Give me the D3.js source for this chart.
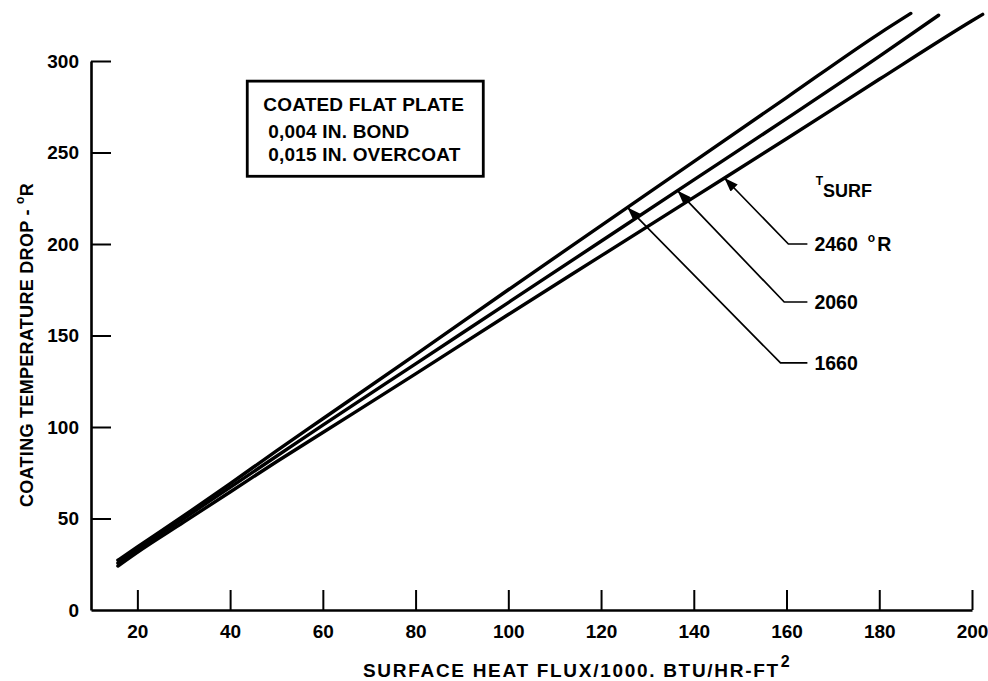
<!DOCTYPE html>
<html>
<head>
<meta charset="utf-8">
<script src="https://cdn.jsdelivr.net/npm/d3@7"></script>
<style>
  body { margin: 0; background: #fff; }
  svg { display: block; font-family: "Liberation Sans", Arial, sans-serif; font-weight: bold; }
</style>
</head>
<body>
<svg id="chart" width="988" height="681"></svg>
<script>
// tick values
const xTicks = [20, 40, 60, 80, 100, 120, 140, 160, 180, 200];
const yTicks = [0, 50, 100, 150, 200, 250, 300];

// T_SURF = 1660 R (top curve)
const flux1660 = [15.8, 20, 30, 40, 50, 60, 80, 100, 120, 140, 160, 180, 186.8];
const drop1660 = [27.2, 34.5, 51.5, 69, 87, 104.5, 139.5, 175, 210, 245, 280, 315, 326];
// T_SURF = 2060 R (middle curve)
const flux2060 = [15.8, 20, 30, 40, 50, 60, 80, 100, 120, 140, 160, 180, 192.8];
const drop2060 = [25.6, 33, 50, 67, 84, 101, 134.5, 168, 201.5, 235, 268.5, 302.5, 325];
// T_SURF = 2460 R (bottom curve)
const flux2460 = [15.8, 20, 30, 40, 50, 60, 80, 100, 120, 140, 160, 180, 200, 202.3];
const drop2460 = [24, 31.5, 48, 64.5, 81, 97, 129, 161.5, 193.5, 225.5, 257.5, 290, 322, 325.5];

// leader labels
const labelNames = ["1660", "2060", "2460"];
const labelTipFlux = [125.7, 136.5, 146.6];
const labelDrop = [135, 168.3, 200];
const labelElbowFlux = [158.7, 159.5, 160.4];

const svg = d3.select("#chart");
const x = d3.scaleLinear().domain([10, 200]).range([91, 972]);
const y = d3.scaleLinear().domain([0, 300]).range([610, 61]);

// axes
const xAxis = svg.append("g")
    .attr("transform", "translate(0," + y(0) + ")")
    .call(d3.axisBottom(x).tickValues(xTicks).tickSizeInner(-20).tickSizeOuter(0).tickPadding(15));
const yAxis = svg.append("g")
    .attr("transform", "translate(" + x(10) + ",0)")
    .call(d3.axisLeft(y).tickValues(yTicks).tickSizeInner(-20).tickSizeOuter(0).tickPadding(12));

[xAxis, yAxis].forEach(function (g) {
  g.select(".domain").attr("stroke", "#000").attr("stroke-width", 2.6);
  g.selectAll(".tick line").attr("stroke", "#000").attr("stroke-width", 2);
  g.selectAll(".tick text")
      .attr("fill", "#000")
      .attr("font-size", 19)
      .attr("font-weight", "bold")
      .attr("font-family", "Liberation Sans, Arial, sans-serif");
});
yAxis.selectAll(".tick").filter(d => d === 0).select("line").remove();

// curves
const series = [
  [flux1660, drop1660],
  [flux2060, drop2060],
  [flux2460, drop2460]
];
const line = d3.line()
    .x(d => x(d[0]))
    .y(d => y(d[1]))
    .curve(d3.curveMonotoneX);

svg.append("g")
  .selectAll("path")
  .data(series)
  .enter().append("path")
    .attr("d", s => line(d3.zip(s[0], s[1])))
    .attr("fill", "none")
    .attr("stroke", "#000")
    .attr("stroke-width", 3.4)
    .attr("stroke-linecap", "round");

// arrowhead
svg.append("defs").append("marker")
    .attr("id", "arrow")
    .attr("markerUnits", "userSpaceOnUse")
    .attr("viewBox", "0 0 14 10")
    .attr("refX", 14)
    .attr("refY", 5)
    .attr("markerWidth", 15)
    .attr("markerHeight", 10)
    .attr("orient", "auto")
  .append("path")
    .attr("d", "M0,0 L14,5 L0,10 Z")
    .attr("fill", "#000");

function interp(xs, ys, v) {
  const i = d3.bisectLeft(xs, v);
  const t = (v - xs[i - 1]) / (xs[i] - xs[i - 1]);
  return ys[i - 1] + t * (ys[i] - ys[i - 1]);
}

const labelEndFlux = 164.5;
labelNames.forEach(function (name, i) {
  const s = series[i];
  const tipDrop = interp(s[0], s[1], labelTipFlux[i]);
  svg.append("polyline")
      .attr("points", [
        [x(labelEndFlux), y(labelDrop[i])],
        [x(labelElbowFlux[i]), y(labelDrop[i])],
        [x(labelTipFlux[i]), y(tipDrop)]
      ].map(p => p.join(",")).join(" "))
      .attr("fill", "none")
      .attr("stroke", "#000")
      .attr("stroke-width", 1.7)
      .attr("marker-end", "url(#arrow)");

  const t = svg.append("text")
      .attr("x", x(labelEndFlux) + 7)
      .attr("y", y(labelDrop[i]) + 7)
      .attr("font-size", 19.5)
      .text(name);
  if (name === "2460") {
    t.append("tspan").attr("dx", 10).attr("dy", -9).attr("font-size", 12).text("o");
    t.append("tspan").attr("dx", 2).attr("dy", 9).text("R");
  }
});

// T_SURF heading
const tsurf = svg.append("text")
    .attr("x", x(166.3))
    .attr("y", y(225.7))
    .attr("font-size", 18);
tsurf.append("tspan").attr("dy", -12).attr("font-size", 12).text("T");
tsurf.append("tspan").attr("dy", 12).text("SURF");

// note box
const box = svg.append("g");
box.append("rect")
    .attr("x", x(43.7))
    .attr("y", y(289))
    .attr("width", x(94.6) - x(43.7))
    .attr("height", y(237) - y(289))
    .attr("fill", "none")
    .attr("stroke", "#000")
    .attr("stroke-width", 2.8);
const boxLines = ["COATED FLAT PLATE", "0,004 IN. BOND", "0,015 IN. OVERCOAT"];
const boxOffsets = [[16, 30], [21, 57], [21, 80]];
boxLines.forEach(function (txt, i) {
  box.append("text")
      .attr("x", x(43.7) + boxOffsets[i][0])
      .attr("y", y(289) + boxOffsets[i][1])
      .attr("font-size", 19)
      .attr("letter-spacing", 0.2)
      .text(txt);
});

// axis titles
const xt = svg.append("text")
    .attr("x", 363)
    .attr("y", 677)
    .attr("font-size", 19)
    .attr("letter-spacing", 1.7)
    .text("SURFACE HEAT FLUX/1000. BTU/HR-FT");
xt.append("tspan").attr("dx", 1).attr("dy", -10).attr("font-size", 16).text("2");

const yt = svg.append("text")
    .attr("transform", "translate(33,345) rotate(-90)")
    .attr("text-anchor", "middle")
    .attr("font-size", 18)
    .attr("letter-spacing", 0.3)
    .text("COATING TEMPERATURE DROP - ");
yt.append("tspan").attr("dy", -9).attr("font-size", 12).text("o");
yt.append("tspan").attr("dy", 9).text("R");
</script>
</body>
</html>
